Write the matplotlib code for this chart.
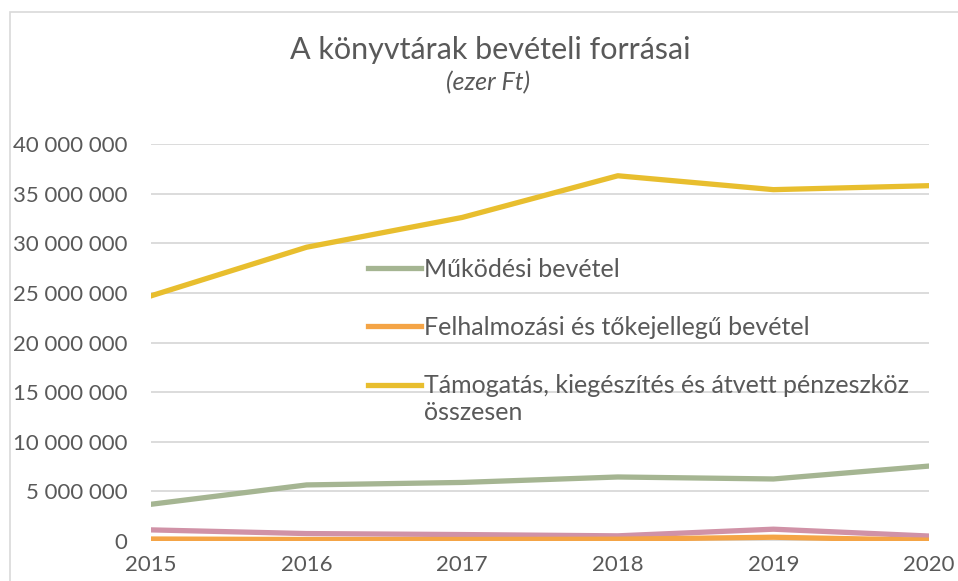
import numpy as np
import matplotlib
matplotlib.use("Agg")
import matplotlib.pyplot as plt
from matplotlib.patches import Rectangle
from matplotlib.legend_handler import HandlerLine2D
from matplotlib.ticker import FuncFormatter

years = [2015, 2016, 2017, 2018, 2019, 2020]
mukodesi = [3700000, 5650000, 5900000, 6450000, 6250000, 7550000]
felhalmozasi = [200000, 150000, 150000, 180000, 380000, 80000]
tamogatas = [24700000, 29600000, 32600000, 36800000, 35400000, 35800000]
egyeb = [1120000, 750000, 650000, 520000, 1190000, 500000]

labels = ["Működési bevétel",
          "Felhalmozási és tőkejellegű bevétel",
          "Támogatás, kiegészítés és átvett pénzeszköz\nösszesen"]

plt.rcParams["font.family"] = ["Lato", "DejaVu Sans"]
txt = "#595959"


class TopHandler(HandlerLine2D):
    # keep the swatch on the first line of a two-line label
    def create_artists(self, legend, orig_handle, xdescent, ydescent,
                       width, height, fontsize, trans):
        arts = super().create_artists(legend, orig_handle, xdescent, ydescent,
                                      width, height, fontsize, trans)
        for a in arts:
            a.set_ydata(np.asarray(a.get_ydata()) + 0.6 * fontsize)
        return arts


fig = plt.figure(figsize=(9.58, 5.81), dpi=100)
ax = fig.add_axes([151 / 958, 1 - 541 / 581, 778 / 958, 397 / 581])

fig.patches.append(Rectangle((10 / 958, -0.1), 1.2, 1 - 12 / 581 + 0.1,
                             transform=fig.transFigure, fill=False,
                             edgecolor="#D9D9D9", lw=1.2))

l1, = ax.plot(years, mukodesi, color="#A5B592", lw=3.8, zorder=3)
l4, = ax.plot(years, egyeb, color="#D092A7", lw=3.8, zorder=3)
l2, = ax.plot(years, felhalmozasi, color="#F4A446", lw=3.8, zorder=4)
l3, = ax.plot(years, tamogatas, color="#E8BE2E", lw=3.8, zorder=5)

ax.set_xlim(2015, 2020)
ax.set_ylim(0, 40000000)
ax.set_yticks(np.arange(0, 40000001, 5000000))
ax.set_xticks(years)
ax.yaxis.set_major_formatter(FuncFormatter(lambda v, p: f"{int(v):,}".replace(",", " ")))
ax.grid(axis="y", color="#D9D9D9", lw=1.3)
ax.set_axisbelow(True)
for s in ax.spines.values():
    s.set_visible(False)
ax.tick_params(length=0, labelsize=16, labelcolor=txt)
ax.tick_params(axis="y", pad=17)
ax.tick_params(axis="x", pad=10)

leg = ax.legend([l1, l2, l3], labels, loc="upper left",
                bbox_to_anchor=(368 / 958, 1 - 258 / 581),
                bbox_transform=fig.transFigure, frameon=False,
                fontsize=18, labelcolor=txt, handlelength=2.1,
                handletextpad=0.15, labelspacing=1.4, borderpad=0,
                borderaxespad=0, handler_map={l3: TopHandler()})

fig.text(490 / 958, 1 - 50 / 581, "A könyvtárak bevételi forrásai",
         ha="center", va="center", fontsize=22, color=txt)
fig.text(488 / 958, 1 - 83 / 581, "(ezer Ft)", ha="center", va="center",
         fontsize=18, color=txt, style="italic")

fig.savefig("out.png", dpi=100)
